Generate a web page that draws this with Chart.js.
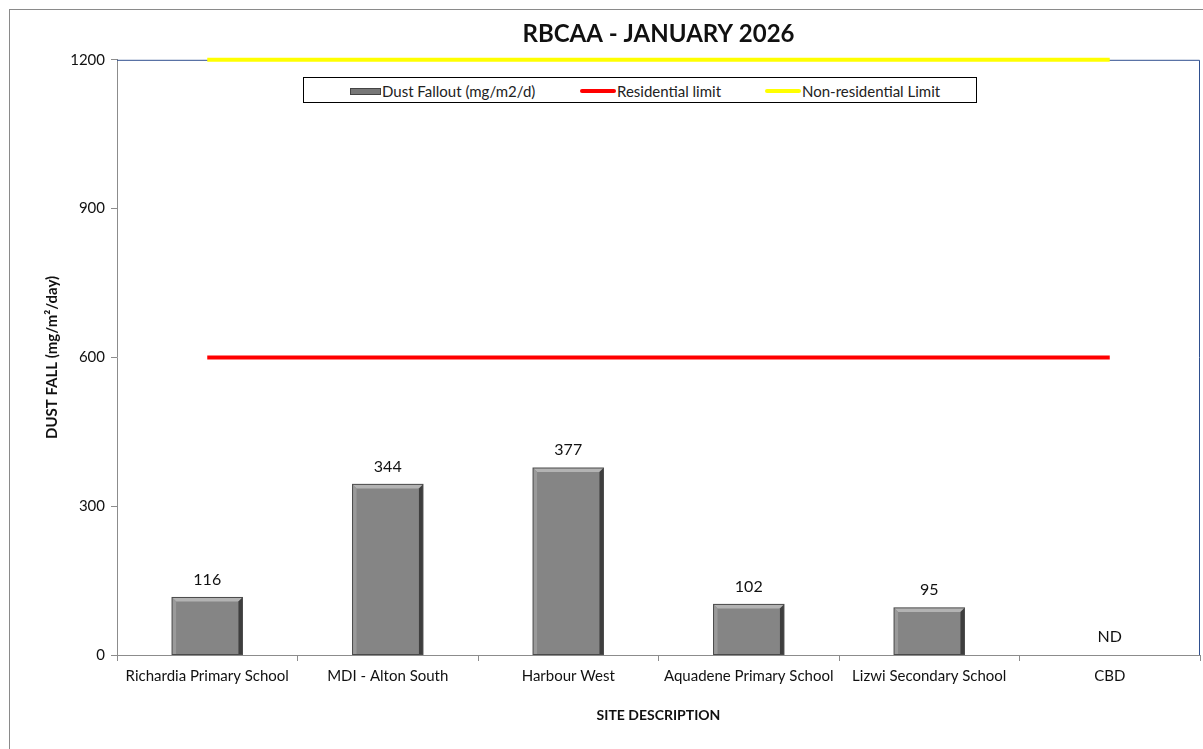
<!DOCTYPE html>
<html>
<head>
<meta charset="utf-8">
<script src="https://cdn.jsdelivr.net/npm/chart.js@4.4.1/dist/chart.umd.min.js"></script>
<style>
  html, body { margin: 0; padding: 0; background: #fff; overflow: hidden; }
  #wrap { position: relative; width: 1203px; height: 749px; }
  #frame { position: absolute; left: 9px; top: 9px; width: 1210px; height: 760px; border: 1.5px solid #8a8a8a; box-sizing: border-box; }
  #legend { position: absolute; left: 303px; top: 77px; width: 674px; height: 26px; border: 1px solid #000; box-sizing: border-box;
            font-family: Lato, "Open Sans", sans-serif; font-size: 15px; color: #222; background: #fff; }
  .item { position: absolute; top: 2px; white-space: nowrap; }
  .sym { display: inline-block; vertical-align: middle; margin-right: 1px; }
</style>
</head>
<body>
<div id="wrap">
  <div id="frame"></div>
  <canvas id="grafico" width="1203" height="749"></canvas>
  <div id="legend"></div>
</div>
<script>
const sitios = ['Richardia Primary School', 'MDI - Alton South', 'Harbour West', 'Aquadene Primary School', 'Lizwi Secondary School', 'CBD'];
const polvo = [116, 344, 377, 102, 95, null];
const limiteResidencial = [600, 600, 600, 600, 600, 600];
const limiteNoResidencial = [1200, 1200, 1200, 1200, 1200, 1200];
const marcasY = [0, 300, 600, 900, 1200];

const fuente = 'Lato, "Open Sans", sans-serif';

// etiquetas de valor encima de las barras, ND cuando no hay dato
const etiquetas = {
  id: 'etiquetas',
  afterDatasetsDraw(chart) {
    const ctx = chart.ctx;
    const meta = chart.getDatasetMeta(0);
    ctx.save();
    ctx.font = '16px ' + fuente;
    ctx.fillStyle = '#111';
    ctx.textAlign = 'center';
    ctx.textBaseline = 'middle';
    polvo.forEach((v, i) => {
      const x = chart.scales.x.getPixelForValue(i);
      if (v === null) {
        ctx.fillText('ND', x, chart.scales.y.getPixelForValue(0) - 18);
      } else {
        ctx.fillText(String(v), x, meta.data[i].y - 18);
      }
    });
    ctx.restore();
  }
};

// efecto de bisel en las barras
const bisel = {
  id: 'bisel',
  afterDatasetDraw(chart, args) {
    if (args.index !== 0) return;
    const ctx = chart.ctx;
    ctx.save();
    args.meta.data.forEach((b, i) => {
      if (polvo[i] === null) return;
      const l = b.x - b.width / 2, r = b.x + b.width / 2, t = b.y, bot = b.base;
      const e = 4;
      ctx.fillStyle = '#b3b3b3';
      ctx.beginPath(); ctx.moveTo(l, t); ctx.lineTo(r, t); ctx.lineTo(r - e, t + e); ctx.lineTo(l + e, t + e); ctx.closePath(); ctx.fill();
      ctx.fillStyle = '#9a9a9a';
      ctx.beginPath(); ctx.moveTo(l, t); ctx.lineTo(l + e, t + e); ctx.lineTo(l + e, bot); ctx.lineTo(l, bot); ctx.closePath(); ctx.fill();
      ctx.fillStyle = '#3e3e3e';
      ctx.beginPath(); ctx.moveTo(r, t); ctx.lineTo(r - e, t + e); ctx.lineTo(r - e, bot); ctx.lineTo(r, bot); ctx.closePath(); ctx.fill();
      ctx.strokeStyle = '#4a4a4a';
      ctx.lineWidth = 1;
      ctx.strokeRect(l, t, r - l, bot - t);
    });
    ctx.restore();
  }
};

// borde azul arriba y a la derecha del area de trazado
const borde = {
  id: 'borde',
  beforeDatasetsDraw(chart) {
    const a = chart.chartArea, ctx = chart.ctx;
    ctx.save();
    ctx.strokeStyle = '#2f4f8f';
    ctx.lineWidth = 1;
    ctx.beginPath();
    ctx.moveTo(a.left, a.top + 0.5); ctx.lineTo(a.right - 0.5, a.top + 0.5); ctx.lineTo(a.right - 0.5, a.bottom);
    ctx.stroke();
    ctx.restore();
  }
};

const ctx = document.getElementById('grafico');
const grafico = new Chart(ctx, {
  data: {
    labels: sitios,
    datasets: [
      { type: 'bar', label: 'Dust Fallout (mg/m2/d)', data: polvo, backgroundColor: '#858585',
        barPercentage: 0.39, categoryPercentage: 1, order: 3 },
      { type: 'line', label: 'Residential limit', data: limiteResidencial, borderColor: '#ff0000',
        borderWidth: 4, pointRadius: 0, order: 2 },
      { type: 'line', label: 'Non-residential Limit', data: limiteNoResidencial, borderColor: '#ffff00',
        borderWidth: 4, pointRadius: 0, clip: false, order: 1 }
    ]
  },
  options: {
    responsive: false,
    animation: false,
    layout: { padding: { left: 10, top: 10, right: 3, bottom: 20 } },
    plugins: {
      legend: { display: false },
      tooltip: { enabled: false },
      title: {
        display: true, fullSize: false, text: 'RBCAA - JANUARY 2026', color: '#111',
        font: { family: fuente, size: 24, weight: 'bold' },
        padding: { top: 10, bottom: 11 }
      }
    },
    scales: {
      x: {
        offset: true,
        grid: { display: true, offset: true, drawOnChartArea: false, tickLength: 6, color: '#8c8c8c' },
        border: { color: '#8c8c8c', width: 1 },
        ticks: { color: '#111', padding: 6, maxRotation: 0, font: { family: fuente, size: 15 } },
        title: { display: true, text: 'SITE DESCRIPTION', color: '#111', font: { family: fuente, size: 14, weight: 'bold' },
                 padding: { top: 4, bottom: 5 } },
        afterFit(s) { s.height = 74; }
      },
      y: {
        min: 0, max: 1200,
        afterBuildTicks(s) { s.ticks = marcasY.map(v => ({ value: v })); },
        grid: { display: true, drawOnChartArea: false, tickLength: 6, color: '#8c8c8c' },
        border: { color: '#8c8c8c', width: 1 },
        ticks: { color: '#111', padding: 6, font: { family: fuente, size: 15 }, callback: v => String(v) },
        title: { display: true, text: 'DUST FALL (mg/m²/day)', color: '#111', font: { family: fuente, size: 15, weight: 'bold' },
                 padding: { top: 33 } },
        afterFit(s) { s.width = 107; }
      }
    }
  },
  plugins: [borde, bisel, etiquetas]
});

// leyenda en HTML con borde negro
const simbolos = [
  '<span class="sym" style="width:31px;height:7px;background:#777;border:1px solid #444;box-sizing:border-box"></span>',
  '<span class="sym" style="width:36px;height:4px;background:#ff0000;border-radius:2px"></span>',
  '<span class="sym" style="width:36px;height:4px;background:#ffff00;border-radius:2px"></span>'
];
const posiciones = [46, 276, 461];
const leyenda = document.getElementById('legend');
grafico.data.datasets.forEach((d, i) => {
  const el = document.createElement('div');
  el.className = 'item';
  el.style.left = posiciones[i] + 'px';
  el.innerHTML = simbolos[i] + '<span style="vertical-align:middle">' + d.label + '</span>';
  leyenda.appendChild(el);
});
</script>
</body>
</html>
